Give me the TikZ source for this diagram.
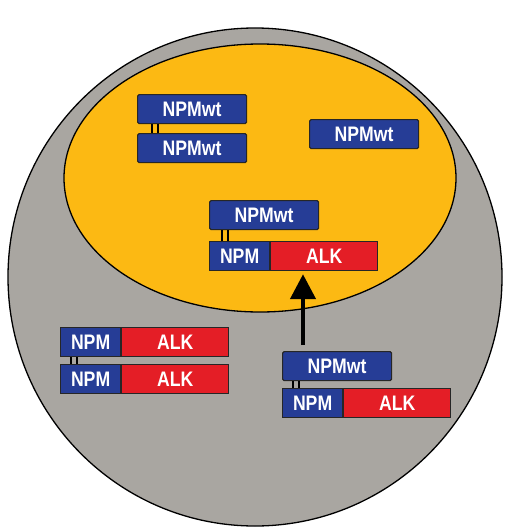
\documentclass[tikz,border=0pt]{standalone}
\usepackage{fontspec}
\newfontfamily\boxfont[FakeStretch=0.84]{Liberation Sans}
\usetikzlibrary{arrows.meta}
\definecolor{cellgray}{HTML}{A9A6A1}
\definecolor{nucyellow}{HTML}{FCB913}
\definecolor{npmblue}{HTML}{263D96}
\definecolor{alkred}{HTML}{E41E26}
\tikzset{
  prot/.style={draw=black!85, line width=1.2pt, rounded corners=1.5pt, inner sep=0pt,
    minimum height=29pt, text=white, font=\boxfont\bfseries\fontsize{21}{21}\selectfont, anchor=north west},
  wtbox/.style={prot, fill=npmblue, minimum width=109pt},
  npmpart/.style={prot, fill=npmblue, minimum width=60pt, rounded corners=0pt},
  alkpart/.style={prot, fill=alkred, minimum width=107pt, rounded corners=0pt},
  link/.style={line width=1.3pt, black},
  bigarrow/.style={line width=4.5pt, -{Triangle[length=25pt,width=25pt]}}
}
\begin{document}
\begin{tikzpicture}[x=1pt,y=-1pt]
\fill[white] (0,0) rectangle (504,527);
\useasboundingbox (0,0) rectangle (504,527);
% cell and nucleus
\draw[fill=cellgray, line width=1.3pt] (255,277) ellipse [x radius=247, y radius=249];
\draw[fill=nucyellow, line width=1.3pt] (260,178) ellipse [x radius=196, y radius=134];
% top-left pair
\node[wtbox] (A) at (137,94) {NPMwt};
\node[wtbox] (B) at (137,133) {NPMwt};
\draw[link] ([xshift=15pt]A.south west) -- ([xshift=15pt]B.north west);
\draw[link] ([xshift=21pt]A.south west) -- ([xshift=21pt]B.north west);
% single wt
\node[wtbox] (C) at (309,119) {NPMwt};
% center pair in nucleus
\node[wtbox] (D) at (209,200) {NPMwt};
\node[npmpart] (E1) at (209,241) {NPM};
\node[alkpart] (E2) at (E1.north east) {ALK};
\draw[link] ([xshift=13pt]D.south west) -- ([xshift=13pt]E1.north west);
\draw[link] ([xshift=19pt]D.south west) -- ([xshift=19pt]E1.north west);
% left NPM-ALK dimer
\node[npmpart] (F1) at (60,327) {NPM};
\node[alkpart] (F2) at (F1.north east) {ALK};
\node[npmpart] (G1) at (60,364) {NPM};
\node[alkpart] (G2) at (G1.north east) {ALK};
\draw[link] ([xshift=11pt]F1.south west) -- ([xshift=11pt]G1.north west);
\draw[link] ([xshift=17pt]F1.south west) -- ([xshift=17pt]G1.north west);
% lower right pair
\node[wtbox] (H) at (282,351) {NPMwt};
\node[npmpart] (I1) at (282,388) {NPM};
\node[alkpart] (I2) at (I1.north east) {ALK};
\draw[link] ([xshift=11pt]H.south west) -- ([xshift=11pt]I1.north west);
\draw[link] ([xshift=17pt]H.south west) -- ([xshift=17pt]I1.north west);
% arrow
\coordinate (ArrStart) at ([xshift=21pt,yshift=6pt]H.north west);
\coordinate (ArrEnd) at ([yshift=-3pt]ArrStart |- E2.south);
\draw[bigarrow] (ArrStart) -- (ArrEnd);
\end{tikzpicture}
\end{document}
